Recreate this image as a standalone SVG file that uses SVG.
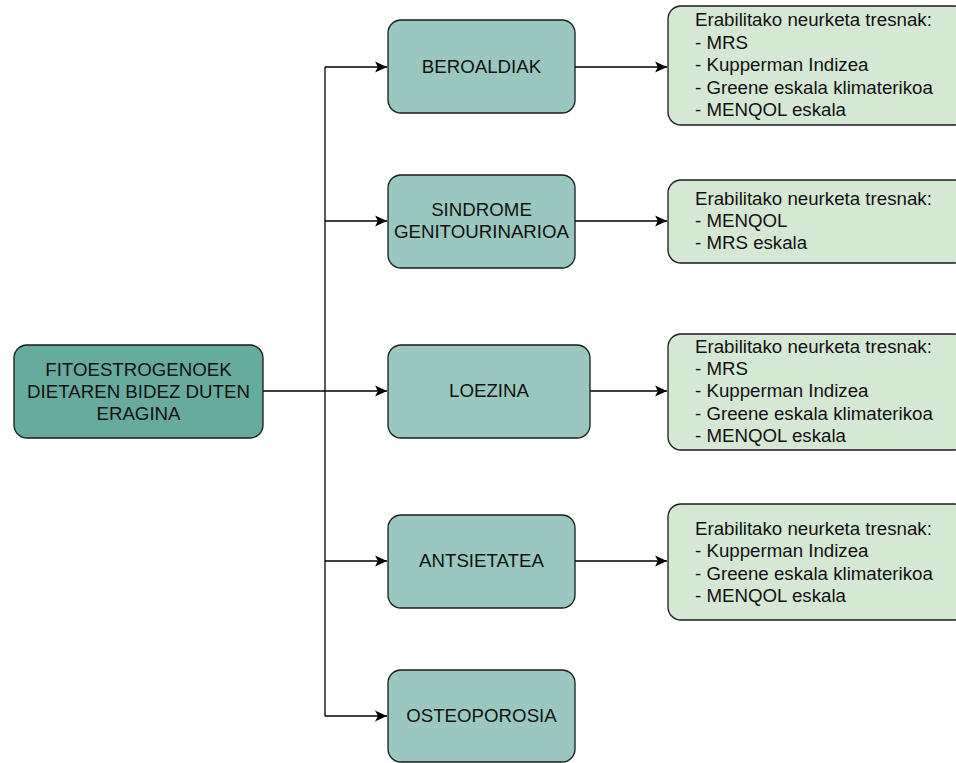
<svg xmlns="http://www.w3.org/2000/svg" width="956" height="763" viewBox="0 0 956 763">
<defs>
<marker id="arr" markerWidth="14" markerHeight="12" refX="13" refY="6" orient="auto" markerUnits="userSpaceOnUse">
<path d="M1,0.5 L13,6 L1,11.5 L4,6 Z" fill="#000"/>
</marker>
<style>
.root{fill:#67AB9F;stroke:#1a1a1a;stroke-width:1.3}
.mid{fill:#9AC7BF;stroke:#1a1a1a;stroke-width:1.3}
.tool{fill:#D5E8D4;stroke:#1a1a1a;stroke-width:1.3}
text{font-family:"Liberation Sans",Arial,sans-serif;font-size:18.7px;fill:#111}
.c{text-anchor:middle}
.e{fill:none;stroke:#000;stroke-width:1.3}
</style>
</defs>
<rect width="956" height="763" fill="#fff"/>
<g id="connectors">
<path class="e" d="M325,67 L325,716"/>
<path class="e" d="M263,391 L387,391" marker-end="url(#arr)"/>
<path class="e" d="M325,67 L387,67" marker-end="url(#arr)"/>
<path class="e" d="M325,221 L387,221" marker-end="url(#arr)"/>
<path class="e" d="M325,561 L387,561" marker-end="url(#arr)"/>
<path class="e" d="M325,716 L387,716" marker-end="url(#arr)"/>
<path class="e" d="M575,67 L667,67" marker-end="url(#arr)"/>
<path class="e" d="M575,221 L667,221" marker-end="url(#arr)"/>
<path class="e" d="M590,391 L667,391" marker-end="url(#arr)"/>
<path class="e" d="M575,561 L667,561" marker-end="url(#arr)"/>
</g>
<g id="root">
<rect class="root" x="14" y="345" width="249" height="93" rx="13"/>
<text class="c" x="138.5" y="376">FITOESTROGENOEK</text>
<text class="c" x="138.5" y="398">DIETAREN BIDEZ DUTEN</text>
<text class="c" x="138.5" y="420">ERAGINA</text>
</g>
<g id="beroaldiak">
<rect class="mid" x="388" y="20" width="187" height="93" rx="13"/>
<text class="c" x="481.5" y="73">BEROALDIAK</text>
</g>
<g id="sindrome">
<rect class="mid" x="388" y="175" width="187" height="93" rx="13"/>
<text class="c" x="481.5" y="216">SINDROME</text>
<text class="c" x="481.5" y="238">GENITOURINARIOA</text>
</g>
<g id="loezina">
<rect class="mid" x="388" y="345" width="202" height="93" rx="13"/>
<text class="c" x="489" y="397">LOEZINA</text>
</g>
<g id="antsietatea">
<rect class="mid" x="388" y="515" width="187" height="93" rx="13"/>
<text class="c" x="481.5" y="567">ANTSIETATEA</text>
</g>
<g id="osteoporosia">
<rect class="mid" x="388" y="670" width="187" height="92" rx="13"/>
<text class="c" x="481.5" y="722">OSTEOPOROSIA</text>
</g>
<g id="tools1">
<rect class="tool" x="668" y="6" width="300" height="119" rx="13"/>
<text x="695" y="26">Erabilitako neurketa tresnak:</text>
<text x="695" y="49">- MRS</text>
<text x="695" y="71">- Kupperman Indizea</text>
<text x="695" y="94">- Greene eskala klimaterikoa</text>
<text x="695" y="116">- MENQOL eskala</text>
</g>
<g id="tools2">
<rect class="tool" x="668" y="180" width="300" height="83" rx="13"/>
<text x="695" y="205">Erabilitako neurketa tresnak:</text>
<text x="695" y="227">- MENQOL</text>
<text x="695" y="249">- MRS eskala</text>
</g>
<g id="tools3">
<rect class="tool" x="668" y="334" width="300" height="116" rx="13"/>
<text x="695" y="353">Erabilitako neurketa tresnak:</text>
<text x="695" y="375">- MRS</text>
<text x="695" y="397">- Kupperman Indizea</text>
<text x="695" y="420">- Greene eskala klimaterikoa</text>
<text x="695" y="442">- MENQOL eskala</text>
</g>
<g id="tools4">
<rect class="tool" x="668" y="504" width="300" height="116" rx="13"/>
<text x="695" y="535">Erabilitako neurketa tresnak:</text>
<text x="695" y="557">- Kupperman Indizea</text>
<text x="695" y="580">- Greene eskala klimaterikoa</text>
<text x="695" y="602">- MENQOL eskala</text>
</g>
</svg>
